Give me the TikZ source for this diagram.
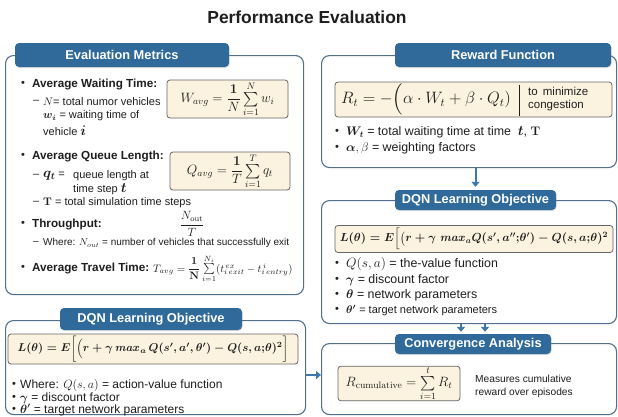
\RequirePackage{fix-cm}
\documentclass[tikz,border=0pt]{standalone}
\usepackage{amsmath,bm}
\usepackage[no-math]{fontspec}
\setsansfont{Liberation Sans}
\usetikzlibrary{arrows.meta,calc,shadows}

\definecolor{tabblue}{HTML}{2F6A9A}
\definecolor{frameblue}{HTML}{52708C}
\definecolor{cream}{HTML}{FBF3DF}
\definecolor{ink}{HTML}{1E1E1E}
\definecolor{arrowblue}{HTML}{3C78AE}

% formulas kept as macros
\newcommand{\lossleft}{\mbox{\boldmath$L(\theta) = E\biggl[\Bigl(r+\gamma\, \mathit{max}_{a}\,Q(s^{\prime},a^{\prime},\theta^{\prime}) - Q(s,a{;}\theta)^{2}\biggr]$}}
\newcommand{\lossright}{\mbox{\boldmath$L(\theta) = E\Bigl[\bigl(r+\gamma\ \mathit{max}_{a}Q(s^{\prime},a^{\prime\prime}{;}\theta^{\prime})-Q(s,a{;}\theta)^{2}$}}
\newcommand{\rewardeq}{$R_t = -\Bigl(\alpha\cdot W_t + \beta\cdot Q_t)$}
\newcommand{\travel}{$T_{avg} = \dfrac{\mathbf{1}}{\mathbf{N}}\sum\limits_{i=1}^{N_i}(t^{\,ex}_{i\,exit}-t^{\,i}_{i\,entry})$}
\newcommand{\bigsym}[1]{{\fontsize{14}{16}\selectfont$\bm{#1}$}}

\tikzset{
  panel/.style={draw=frameblue, line width=1.1pt, rounded corners=8pt, fill=white,
    anchor=north west, inner sep=0pt},
  tab/.style={fill=tabblue, rounded corners=4pt, text=white, inner sep=0pt,
    font=\sffamily\bfseries\fontsize{12.8}{15}\selectfont,
    drop shadow={shadow xshift=0.6pt, shadow yshift=-1pt, opacity=0.25}},
  formula/.style={draw=black!60, fill=cream, line width=0.8pt, rounded corners=3pt,
    inner sep=0pt, text=ink},
  txt/.style={anchor=west, inner sep=0pt, text=ink, font=\sffamily\fontsize{11}{13}\selectfont},
  head/.style={txt, font=\sffamily\bfseries\fontsize{11.7}{14}\selectfont},
  big/.style={txt, font=\sffamily\fontsize{12.4}{14}\selectfont},
  lower/.style={txt, font=\sffamily\fontsize{12}{13}\selectfont},
  mid/.style={txt, font=\sffamily\fontsize{11.5}{13}\selectfont},
  tiny/.style={txt, font=\sffamily\fontsize{10}{12}\selectfont},
  dot/.style={txt, font=\sffamily\fontsize{11}{13}\selectfont},
  arr/.style={draw=arrowblue, line width=2pt, -{Triangle[length=5pt,width=8pt]}},
}

\begin{document}
\begin{tikzpicture}[x=1pt, y=-1pt]
\useasboundingbox[fill=white] (0,0) rectangle (618,416);

% title
\node[font=\sffamily\bfseries\fontsize{17.4}{20}\selectfont, text=ink] (title) at (307,17) {Performance Evaluation};

% ---------- left column: evaluation metrics ----------
\node[panel, minimum width=298pt, minimum height=239pt] (p1) at (5,55) {};
\node[tab, minimum width=214pt, minimum height=24pt] (t1) at (122,55) {Evaluation Metrics};

\node[formula, minimum width=121pt, minimum height=38pt] (f1) at (227.5,99)
  {\fontsize{13.5}{16}\selectfont $W_{avg} = \dfrac{\mathbf{1}}{N}\sum\limits_{i=1}^{N} w_i$};
\node[formula, minimum width=120pt, minimum height=38pt] (f2) at (230,171)
  {\fontsize{13.5}{16}\selectfont $Q_{avg} = \dfrac{\mathbf{1}}{T}\sum\limits_{i=1}^{T} q_t$};

\node[dot]  (b1)  at (21,84)  {\textbullet};
\node[head] (h1)  at (32,84)  {Average Waiting Time:};
\node[txt]  (d1)  at (33,102) {–};
\node[txt]  (l1)  at (43,102) {$N$= total numor vehicles};
\node[txt]  (l2)  at (43,116) {$\bm{w_i}$ = waiting time of};
\node[txt]  (l3)  at (43,131) {vehicle \bigsym{i}};

\node[dot]  (b2)  at (21,156) {\textbullet};
\node[head] (h2)  at (32,156) {Average Queue Length:};
\node[txt]  (d2)  at (33,176) {–};
\node[txt]  (l4)  at (43,176) {\bigsym{q_t} =};
\node[txt]  (l5)  at (73,176) {queue length at};
\node[txt]  (l6)  at (73,189) {time step \bigsym{t}};
\node[txt]  (d3)  at (33,203) {–};
\node[txt]  (l7)  at (43,203) {$\mathbf{T}$ = total simulation time steps};

\node[dot]  (b3)  at (21,224) {\textbullet};
\node[head] (h3)  at (32,224) {Throughput:};
\node[text=ink, inner sep=0pt, font=\fontsize{12}{14}\selectfont] (fr) at (192,224) {$\dfrac{N_{\mathrm{out}}}{T}$};
\node[tiny] (d4)  at (33,243) {–};
\node[tiny] (l8)  at (43,243) {Where: $N_{out}$ = number of vehicles that successfully exit};

\node[dot]  (b4)  at (21,268) {\textbullet};
\node[head] (h4)  at (32,268) {Average Travel Time:};
\node[txt]  (f3)  at (153,269) {\fontsize{10.8}{13}\selectfont\travel};

% ---------- left column: DQN objective ----------
\node[panel, minimum width=300pt, minimum height=94pt] (p2) at (5,320) {};
\node[tab, minimum width=182pt, minimum height=22pt] (t2) at (151,319) {DQN Learning Objective};
\node[formula, minimum width=290pt, minimum height=30pt] (f4) at (153,349)
  {\fontsize{11.4}{13}\selectfont\lossleft};
\node[dot]   (b5) at (12,385) {\textbullet};
\node[lower] (l9) at (20,385) {Where: $Q(s,a)$ = action-value function};
\node[dot]   (b6) at (12,398) {\textbullet};
\node[lower] (l10) at (20,398) {$\bm{\gamma}$ = discount factor};
\node[dot]   (b7) at (12,410) {\textbullet};
\node[lower] (l11) at (20,410) {$\bm{\theta^{\prime}}$ = target network parameters};

% ---------- right column: reward ----------
\node[panel, minimum width=295pt, minimum height=112pt] (p3) at (321,55) {};
\node[tab, minimum width=216pt, minimum height=24pt] (t3) at (503,55) {Reward Function};
\node[formula, minimum width=277pt, minimum height=35pt] (f5) at (473.5,99.5) {};
\node[anchor=west, inner sep=0pt, text=ink] (r1) at (341,99.5)
  {\fontsize{16.5}{19}\selectfont\rewardeq};
\coordinate (sepT) at (519,85);
\coordinate (sepB) at (519,116);
\draw[ink, line width=0.8pt] (sepT) -- (sepB);
\node[mid, align=left] (r2) at (528,99.5) {to\, minimize\\congestion};
\node[dot]  (b8)  at (335,132) {\textbullet};
\node[big]  (l12) at (346,132) {$\bm{W_t}$ = total waiting time at time\; \bigsym{t}, $\mathbf{T}$};
\node[dot]  (b9)  at (335,148) {\textbullet};
\node[big]  (l13) at (346,148) {$\bm{\alpha}, \beta$ = weighting factors};

% ---------- right column: DQN objective ----------
\node[panel, minimum width=295pt, minimum height=123pt] (p4) at (321,200) {};
\node[tab, minimum width=161pt, minimum height=20pt] (t4) at (475.5,200) {DQN Learning Objective};
\node[formula, minimum width=278pt, minimum height=27pt] (f6) at (474,239)
  {\fontsize{11.7}{14}\selectfont\lossright};
\node[dot]  (b10) at (335,264) {\textbullet};
\node[big]  (l14) at (346,264) {{\fontsize{13.5}{15}\selectfont$Q(s,a)$} = the-value function};
\node[dot]  (b11) at (335,280) {\textbullet};
\node[big]  (l15) at (346,280) {$\bm{\gamma}$ = discount factor};
\node[dot]  (b12) at (335,295) {\textbullet};
\node[big]  (l16) at (346,295) {$\bm{\theta}$ = network parameters};
\node[dot]  (b13) at (335,310) {\textbullet};
\node[txt]  (l17) at (346,310) {$\bm{\theta^{\prime}}$ = target network parameters};

% ---------- right column: convergence ----------
\node[panel, minimum width=295pt, minimum height=71pt] (p5) at (321,343) {};
\node[tab, minimum width=156pt, minimum height=20pt] (t5) at (473,344) {Convergence Analysis};
\node[formula, minimum width=122pt, minimum height=33pt] (f7) at (399,383.5)
  {\fontsize{13.5}{16}\selectfont $R_{\mathrm{cumulative}} = \sum\limits_{i=1}^{t} R_t$};
\node[tiny, align=left, font=\sffamily\fontsize{10.2}{13}\selectfont] (c1) at (475,386) {Measures cumulative\\reward over episodes};

% ---------- connectors ----------
\draw[arr] (p3.south -| t4.north) -- ([yshift=3pt]t4.north);
\draw[arr] ([xshift=-12pt]t5.north |- p4.south) -- ([xshift=-12pt,yshift=2pt]t5.north);
\draw[arr] ([xshift=12pt]t5.north |- p4.south) -- ([xshift=12pt,yshift=2pt]t5.north);
\coordinate (link) at (0,375);
\draw[arr] (p2.east |- link) -- (p5.west |- link);
\end{tikzpicture}
\end{document}
